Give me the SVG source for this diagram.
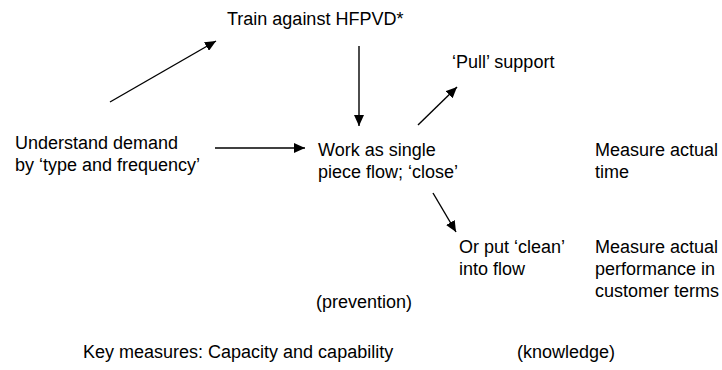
<svg xmlns="http://www.w3.org/2000/svg" width="722" height="370" viewBox="0 0 722 370">
<defs>
<style>
text{font-family:"Liberation Sans",Arial,sans-serif;font-size:18px;fill:#000}
.c{stroke:#000;stroke-width:1.4;fill:none;marker-end:url(#ah)}
</style>
<marker id="ah" markerUnits="userSpaceOnUse" markerWidth="12" markerHeight="10" viewBox="0 0 12 10" refX="11" refY="5" orient="auto">
<path d="M0,0 L11,5 L0,10 Z" fill="#000"/>
</marker>
</defs>
<rect width="722" height="370" fill="#fff"/>
<g id="connectors">
<line class="c" x1="110" y1="102" x2="216" y2="41"/>
<line class="c" x1="359" y1="46" x2="359" y2="126"/>
<line class="c" x1="215" y1="148" x2="305" y2="148"/>
<line class="c" x1="418" y1="125" x2="457" y2="87"/>
<line class="c" x1="433" y1="193" x2="456" y2="232"/>
</g>
<g id="train"><text x="227" y="25">Train against HFPVD*</text></g>
<g id="understand"><text x="15" y="149">Understand demand</text><text x="15" y="171">by ‘type and frequency’</text></g>
<g id="work"><text x="318" y="156">Work as single</text><text x="318" y="178">piece flow; ‘close’</text></g>
<g id="pull"><text x="452" y="68">‘Pull’ support</text></g>
<g id="measure-time"><text x="595" y="156">Measure actual</text><text x="595" y="178">time</text></g>
<g id="clean"><text x="459" y="253">Or put ‘clean’</text><text x="459" y="275">into flow</text></g>
<g id="measure-perf"><text x="595" y="253">Measure actual</text><text x="595" y="275">performance in</text><text x="595" y="297">customer terms</text></g>
<g id="prevention"><text x="316" y="308">(prevention)</text></g>
<g id="key"><text x="83" y="358">Key measures: Capacity and capability</text></g>
<g id="knowledge"><text x="517" y="358">(knowledge)</text></g>
</svg>
